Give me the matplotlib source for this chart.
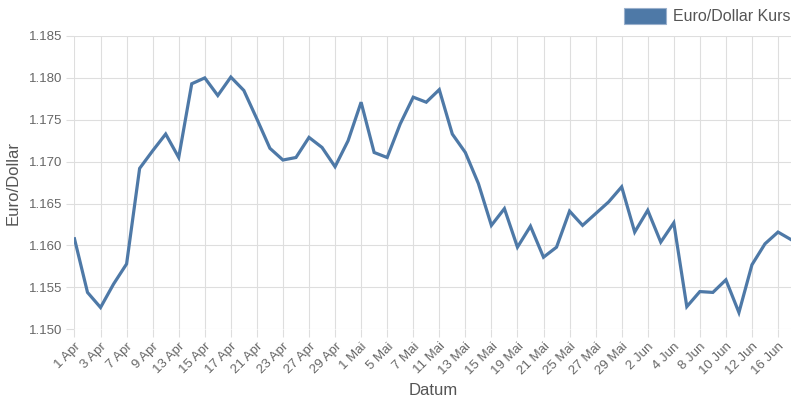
import matplotlib
matplotlib.use('Agg')
import matplotlib.pyplot as plt
from matplotlib.patches import Patch

plt.rcParams['font.family'] = ['Liberation Sans', 'DejaVu Sans']

# Datum labels (one per data point)
dates = ['1 Apr', '2 Apr', '3 Apr', '4 Apr', '7 Apr', '8 Apr', '9 Apr', '10 Apr',
         '13 Apr', '14 Apr', '15 Apr', '16 Apr', '17 Apr', '18 Apr', '21 Apr', '22 Apr',
         '23 Apr', '24 Apr', '27 Apr', '28 Apr', '29 Apr', '30 Apr', '1 Mai', '2 Mai',
         '5 Mai', '6 Mai', '7 Mai', '8 Mai', '11 Mai', '12 Mai', '13 Mai', '14 Mai',
         '15 Mai', '16 Mai', '19 Mai', '20 Mai', '21 Mai', '22 Mai', '25 Mai', '26 Mai',
         '27 Mai', '28 Mai', '29 Mai', '30 Mai', '2 Jun', '3 Jun', '4 Jun', '5 Jun',
         '8 Jun', '9 Jun', '10 Jun', '11 Jun', '12 Jun', '13 Jun', '16 Jun', '17 Jun']

kurs = [1.1608, 1.1544, 1.1526, 1.1554, 1.1578, 1.1692, 1.1713, 1.1733,
        1.1705, 1.1793, 1.1800, 1.1779, 1.1801, 1.1785, 1.1751, 1.1716,
        1.1702, 1.1705, 1.1729, 1.1717, 1.1694, 1.1725, 1.1771, 1.1711,
        1.1705, 1.1745, 1.1777, 1.1771, 1.1786, 1.1733, 1.1711, 1.1674,
        1.1624, 1.1644, 1.1598, 1.1623, 1.1586, 1.1598, 1.1641, 1.1624,
        1.1638, 1.1652, 1.1670, 1.1616, 1.1642, 1.1604, 1.1627, 1.1527,
        1.1545, 1.1544, 1.1559, 1.1520, 1.1577, 1.1602, 1.1616, 1.1607]

yticks = [1.150, 1.155, 1.160, 1.165, 1.170, 1.175, 1.180, 1.185]

line_col = '#4e79a7'
grid_col = '#dedede'
text_col = '#666666'

fig = plt.figure(figsize=(8, 4), dpi=100)
ax = fig.add_axes([0.0931, 0.1768, 0.8957, 0.7332])

x = list(range(len(kurs)))
ax.plot(x, kurs, color=line_col, linewidth=2.3, solid_joinstyle='miter', zorder=3)

ax.set_xlim(0, len(kurs) - 1)
ax.set_ylim(yticks[0], yticks[-1])
ax.set_yticks(yticks)
ax.set_yticklabels([f'{v:.3f}' for v in yticks])
ax.set_xticks(x[::2])
ax.set_xticklabels(dates[::2], rotation=45, ha='right', rotation_mode='anchor')

ax.grid(True, color=grid_col, linewidth=0.8)
for s in ax.spines.values():
    s.set_visible(False)
ax.tick_params(axis='both', colors=grid_col, length=6, width=0.8,
               labelcolor=text_col, labelsize=9.5)
ax.tick_params(axis='y', pad=3)
ax.tick_params(axis='x', pad=2)

ax.set_xlabel('Datum', fontsize=12, color='#555555', labelpad=4)
ax.set_ylabel('Euro/Dollar', fontsize=12, color='#555555', labelpad=6)

handle = Patch(facecolor=line_col, edgecolor='#9ab0cc', linewidth=0.8)
fig.legend([handle], ['Euro/Dollar Kurs'], loc='upper right',
           bbox_to_anchor=(1.006, 1.016), frameon=False, fontsize=11.5,
           handlelength=2.6, handleheight=1.15, handletextpad=0.45,
           labelcolor='#555555')

fig.savefig('out.png', dpi=100)
